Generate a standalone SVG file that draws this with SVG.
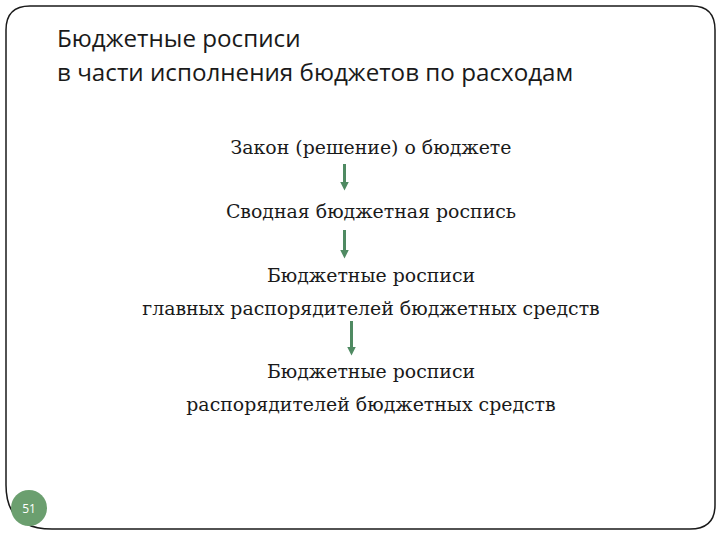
<svg xmlns="http://www.w3.org/2000/svg" width="720" height="540" viewBox="0 0 720 540">
<defs>
<style>
.title{font-family:"Open Sans","Noto Sans","Liberation Sans",sans-serif;font-size:24.2px;fill:#1a1a1a}
.body{font-family:"DejaVu Serif","Liberation Serif",serif;font-size:18.9px;fill:#1a1a1a;text-anchor:middle}
.arr{stroke:#4f8a62;stroke-width:3;fill:none}
</style>
<marker id="ah" viewBox="0 0 10 10" refX="5" refY="5" markerWidth="3" markerHeight="3" orient="auto">
<path d="M0,0 L10,5 L0,10 z" fill="#4f8a62"/>
</marker>
</defs>
<rect width="720" height="540" fill="#ffffff"/>
<path id="frame" d="M30,6 H692 Q715,6 715,30 V505 Q715,529 690,529 H52 Q6,529 6,485 V30 Q6,6 30,6 Z" fill="none" stroke="#1a1a1a" stroke-width="1.5"/>
<g id="title">
<text class="title" x="57" y="47">Бюджетные росписи</text>
<text class="title" x="57" y="81">в части исполнения бюджетов по расходам</text>
</g>
<g id="n1"><text class="body" x="371" y="154">Закон (решение) о бюджете</text></g>
<g id="n2"><text class="body" x="371" y="218">Сводная бюджетная роспись</text></g>
<g id="n3"><text class="body" x="371" y="282">Бюджетные росписи</text><text class="body" x="371" y="315">главных распорядителей бюджетных средств</text></g>
<g id="n4"><text class="body" x="371" y="378">Бюджетные росписи</text><text class="body" x="371" y="411">распорядителей бюджетных средств</text></g>
<g id="connectors">
<line class="arr" x1="344.5" y1="164" x2="344.5" y2="186" marker-end="url(#ah)"/>
<line class="arr" x1="344.5" y1="230" x2="344.5" y2="254" marker-end="url(#ah)"/>
<line class="arr" x1="351.5" y1="321" x2="351.5" y2="351" marker-end="url(#ah)" stroke="#6b806b"/>
</g>
<g id="page">
<circle cx="29" cy="508" r="18" fill="#6b9f6f"/>
<text x="29" y="513" font-family="Open Sans,Liberation Sans,sans-serif" font-size="12" fill="#ffffff" text-anchor="middle">51</text>
</g>
</svg>
